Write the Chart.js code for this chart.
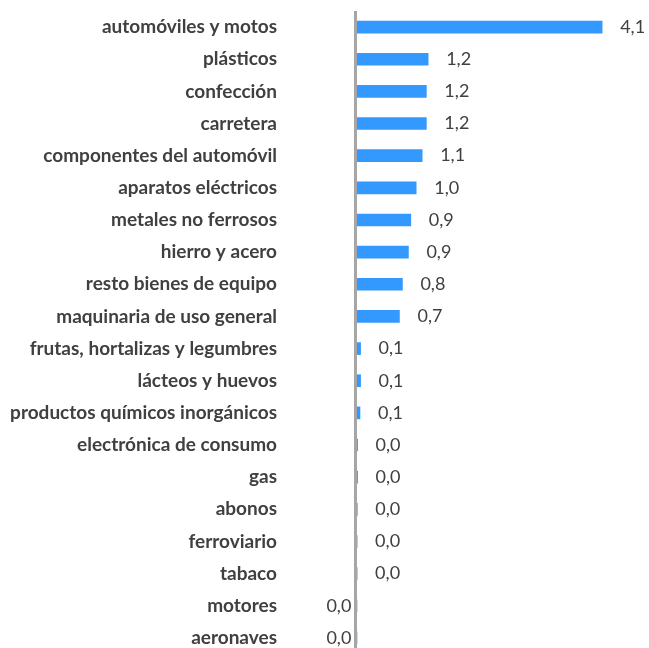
<!DOCTYPE html>
<html lang="es">
<head>
    <meta charset="UTF-8">
    <title>Sectores</title>
    <script src="https://cdn.jsdelivr.net/npm/chart.js"></script>
    <style>
        html, body { margin: 0; padding: 0; background: #fff; overflow: hidden; }
        canvas { display: block; }
    </style>
</head>
<body>
<canvas id="sectoresChart" width="649" height="660"></canvas>
<script>
    const categorias = [
        'automóviles y motos', 'plásticos', 'confección', 'carretera',
        'componentes del automóvil', 'aparatos eléctricos', 'metales no ferrosos',
        'hierro y acero', 'resto bienes de equipo', 'maquinaria de uso general',
        'frutas, hortalizas y legumbres', 'lácteos y huevos',
        'productos químicos inorgánicos', 'electrónica de consumo', 'gas',
        'abonos', 'ferroviario', 'tabaco', 'motores', 'aeronaves'
    ];
    const valores = [
        4.1, 1.19, 1.16, 1.16,
        1.09, 0.99, 0.9,
        0.86, 0.76, 0.71,
        0.06, 0.06,
        0.05, 0.01, 0.01,
        0.005, 0.002, 0.002, -0.01, -0.01
    ];

    function formato(v) {
        let s = v.toFixed(1);
        if (s === '-0.0') s = '0.0';
        return s.replace('.', ',');
    }

    // linea del eje en el cero
    const ejeCero = {
        id: 'ejeCero',
        afterDatasetsDraw(chart) {
            const ctx = chart.ctx;
            const x = chart.scales.x.getPixelForValue(0) - 1.5;
            ctx.save();
            ctx.strokeStyle = '#a6a6a6';
            ctx.lineWidth = 3;
            ctx.beginPath();
            ctx.moveTo(x, chart.chartArea.top);
            ctx.lineTo(x, chart.chartArea.bottom);
            ctx.stroke();
            ctx.restore();
        }
    };

    // etiquetas de valor
    const etiquetas = {
        id: 'etiquetas',
        afterDatasetsDraw(chart) {
            const ctx = chart.ctx;
            const meta = chart.getDatasetMeta(0);
            ctx.save();
            ctx.font = '18px Lato';
            ctx.fillStyle = '#404040';
            ctx.textBaseline = 'middle';
            meta.data.forEach((bar, i) => {
                const v = valores[i];
                if (v >= 0) {
                    ctx.textAlign = 'left';
                    ctx.fillText(formato(v), bar.x + 18, bar.y);
                } else {
                    ctx.textAlign = 'right';
                    ctx.fillText(formato(v), bar.x - 5, bar.y);
                }
            });
            ctx.restore();
        }
    };

    const ctx = document.getElementById('sectoresChart').getContext('2d');
    new Chart(ctx, {
        type: 'bar',
        data: {
            labels: categorias,
            datasets: [{
                data: valores,
                backgroundColor: '#3399ff',
                borderWidth: 0,
                barThickness: 12
            }]
        },
        options: {
            indexAxis: 'y',
            responsive: false,
            animation: false,
            layout: { padding: { top: 11, bottom: 6, right: 5, left: 0 } },
            plugins: {
                legend: { display: false },
                tooltip: { enabled: false }
            },
            scales: {
                x: {
                    min: -0.05,
                    max: 4.8,
                    display: false,
                    grid: { display: false }
                },
                y: {
                    grid: { display: false },
                    border: { display: false },
                    ticks: {
                        padding: 69,
                        color: '#404040',
                        font: { family: 'Lato', size: 19, weight: 'bold' }
                    },
                    afterFit(scale) {
                        scale.width = 354;
                        scale.paddingTop = 0;
                        scale.paddingBottom = 0;
                    }
                }
            }
        },
        plugins: [ejeCero, etiquetas]
    });
</script>
</body>
</html>
